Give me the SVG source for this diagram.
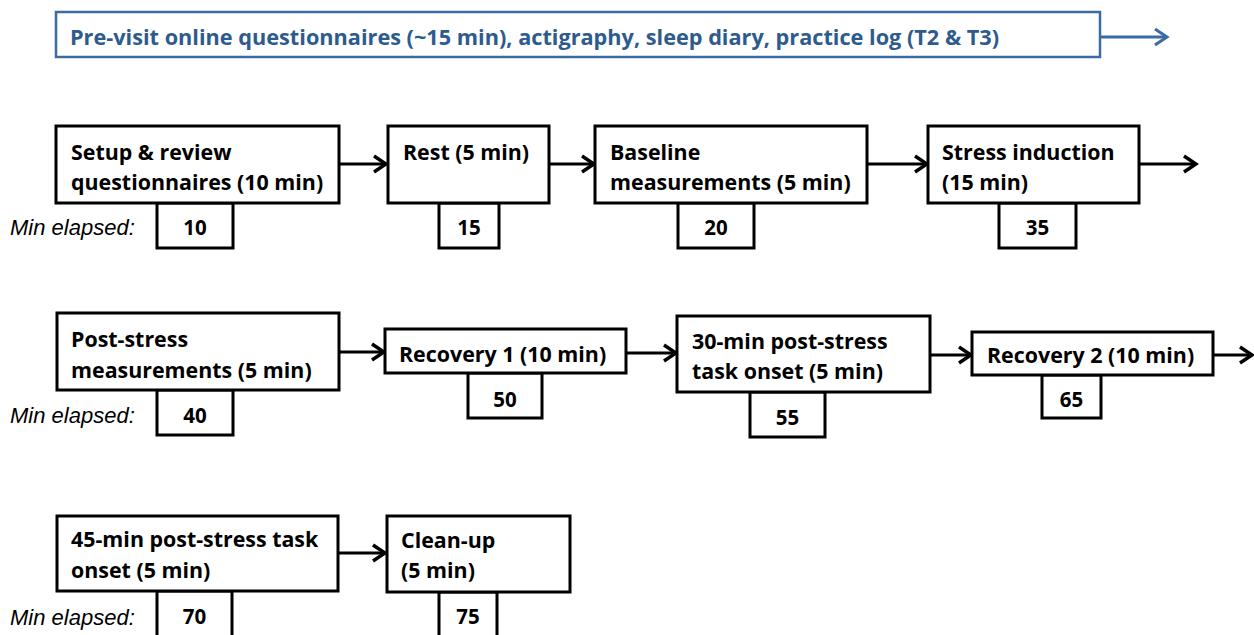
<svg xmlns="http://www.w3.org/2000/svg" width="1254" height="635" viewBox="0 0 1254 635">
<style>
.box{fill:#fff;stroke:#000;stroke-width:3}
.t{font-family:"Open Sans","Liberation Sans",sans-serif;font-weight:bold;font-size:21.4px;fill:#000}
.n{font-family:"Open Sans","Liberation Sans",sans-serif;font-weight:bold;font-size:20.5px;fill:#000;text-anchor:middle}
.me{font-family:"Liberation Sans",Arial,sans-serif;font-style:italic;font-size:22px;fill:#000}
.c{stroke:#000;stroke-width:3;fill:none}
.top{fill:#fff;stroke:#3A6BA3;stroke-width:2.5}
.tt{font-family:"Open Sans","Liberation Sans",sans-serif;font-weight:bold;font-size:21.7px;fill:#2D5B8E}
</style>
<defs>
<marker id="ah" markerUnits="userSpaceOnUse" markerWidth="18" markerHeight="22" viewBox="0 0 18 22" refX="15" refY="11" orient="auto">
<path d="M3,3 L15,11 L3,19" fill="none" stroke="#000" stroke-width="3.5"/>
</marker>
<marker id="ahb" markerUnits="userSpaceOnUse" markerWidth="18" markerHeight="22" viewBox="0 0 18 22" refX="15" refY="11" orient="auto">
<path d="M3,3 L15,11 L3,19" fill="none" stroke="#3A6BA3" stroke-width="3"/>
</marker>
</defs>

<g id="connectors">
<line class="c" x1="1101" y1="37" x2="1167" y2="37" style="stroke:#3A6BA3;stroke-width:3" marker-end="url(#ahb)"/>
<line class="c" x1="339" y1="164" x2="386" y2="164" marker-end="url(#ah)"/>
<line class="c" x1="549" y1="164" x2="594" y2="164" marker-end="url(#ah)"/>
<line class="c" x1="867" y1="164" x2="927" y2="164" marker-end="url(#ah)"/>
<line class="c" x1="1139" y1="164" x2="1196" y2="164" marker-end="url(#ah)"/>
<line class="c" x1="339" y1="352" x2="384" y2="352" marker-end="url(#ah)"/>
<line class="c" x1="626" y1="353" x2="676" y2="353" marker-end="url(#ah)"/>
<line class="c" x1="930" y1="355" x2="971" y2="355" marker-end="url(#ah)"/>
<line class="c" x1="1213" y1="355" x2="1252" y2="355" marker-end="url(#ah)"/>
<line class="c" x1="338" y1="553" x2="385" y2="553" marker-end="url(#ah)"/>
</g>

<g id="previsit">
<rect class="top" x="56" y="12" width="1044" height="45"/>
<text class="tt" x="70" y="45">Pre-visit online questionnaires (~15 min), actigraphy, sleep diary, practice log (T2 &amp; T3)</text>
</g>

<g id="labels">
<text class="me" x="10" y="235">Min elapsed:</text>
<text class="me" x="10" y="423">Min elapsed:</text>
<text class="me" x="10" y="625">Min elapsed:</text>
</g>

<g id="setup">
<rect class="box" x="157" y="203" width="76" height="45"/>
<text class="n" x="195" y="235">10</text>
<rect class="box" x="56" y="126" width="283" height="77"/>
<text class="t" x="71" y="160">Setup &amp; review</text>
<text class="t" x="71" y="190">questionnaires (10 min)</text>
</g>

<g id="rest">
<rect class="box" x="439" y="203" width="60" height="45"/>
<text class="n" x="469" y="235">15</text>
<rect class="box" x="388" y="126" width="161" height="77"/>
<text class="t" x="403" y="160">Rest (5 min)</text>
</g>

<g id="baseline">
<rect class="box" x="678" y="203" width="76" height="45"/>
<text class="n" x="716" y="235">20</text>
<rect class="box" x="595" y="126" width="272" height="77"/>
<text class="t" x="610" y="160">Baseline</text>
<text class="t" x="610" y="190">measurements (5 min)</text>
</g>

<g id="stress">
<rect class="box" x="999" y="203" width="77" height="45"/>
<text class="n" x="1037.5" y="235">35</text>
<rect class="box" x="928" y="126" width="211" height="77"/>
<text class="t" x="942" y="160">Stress induction</text>
<text class="t" x="942" y="190">(15 min)</text>
</g>

<g id="poststress">
<rect class="box" x="157" y="390" width="76" height="45"/>
<text class="n" x="195" y="423">40</text>
<rect class="box" x="57" y="313" width="282" height="77"/>
<text class="t" x="71" y="347">Post-stress</text>
<text class="t" x="71" y="378">measurements (5 min)</text>
</g>

<g id="recovery1">
<rect class="box" x="468" y="373" width="74" height="45"/>
<text class="n" x="505" y="407">50</text>
<rect class="box" x="385" y="329" width="241" height="44"/>
<text class="t" x="399" y="362">Recovery 1 (10 min)</text>
</g>

<g id="task30">
<rect class="box" x="750" y="392" width="75" height="45"/>
<text class="n" x="787.5" y="425">55</text>
<rect class="box" x="677" y="316" width="253" height="76"/>
<text class="t" x="692" y="349">30-min post-stress</text>
<text class="t" x="692" y="379">task onset (5 min)</text>
</g>

<g id="recovery2">
<rect class="box" x="1042" y="375" width="59" height="43"/>
<text class="n" x="1071.5" y="407">65</text>
<rect class="box" x="972" y="332" width="241" height="43"/>
<text class="t" x="987" y="363">Recovery 2 (10 min)</text>
</g>

<g id="task45">
<rect class="box" x="157" y="591" width="75" height="50"/>
<text class="n" x="194.5" y="624">70</text>
<rect class="box" x="57" y="516" width="281" height="75"/>
<text class="t" x="71" y="547">45-min post-stress task</text>
<text class="t" x="71" y="578">onset (5 min)</text>
</g>

<g id="cleanup">
<rect class="box" x="439" y="592" width="58" height="50"/>
<text class="n" x="468" y="624">75</text>
<rect class="box" x="387" y="516" width="183" height="76"/>
<text class="t" x="401" y="548">Clean-up</text>
<text class="t" x="401" y="578">(5 min)</text>
</g>
</svg>
